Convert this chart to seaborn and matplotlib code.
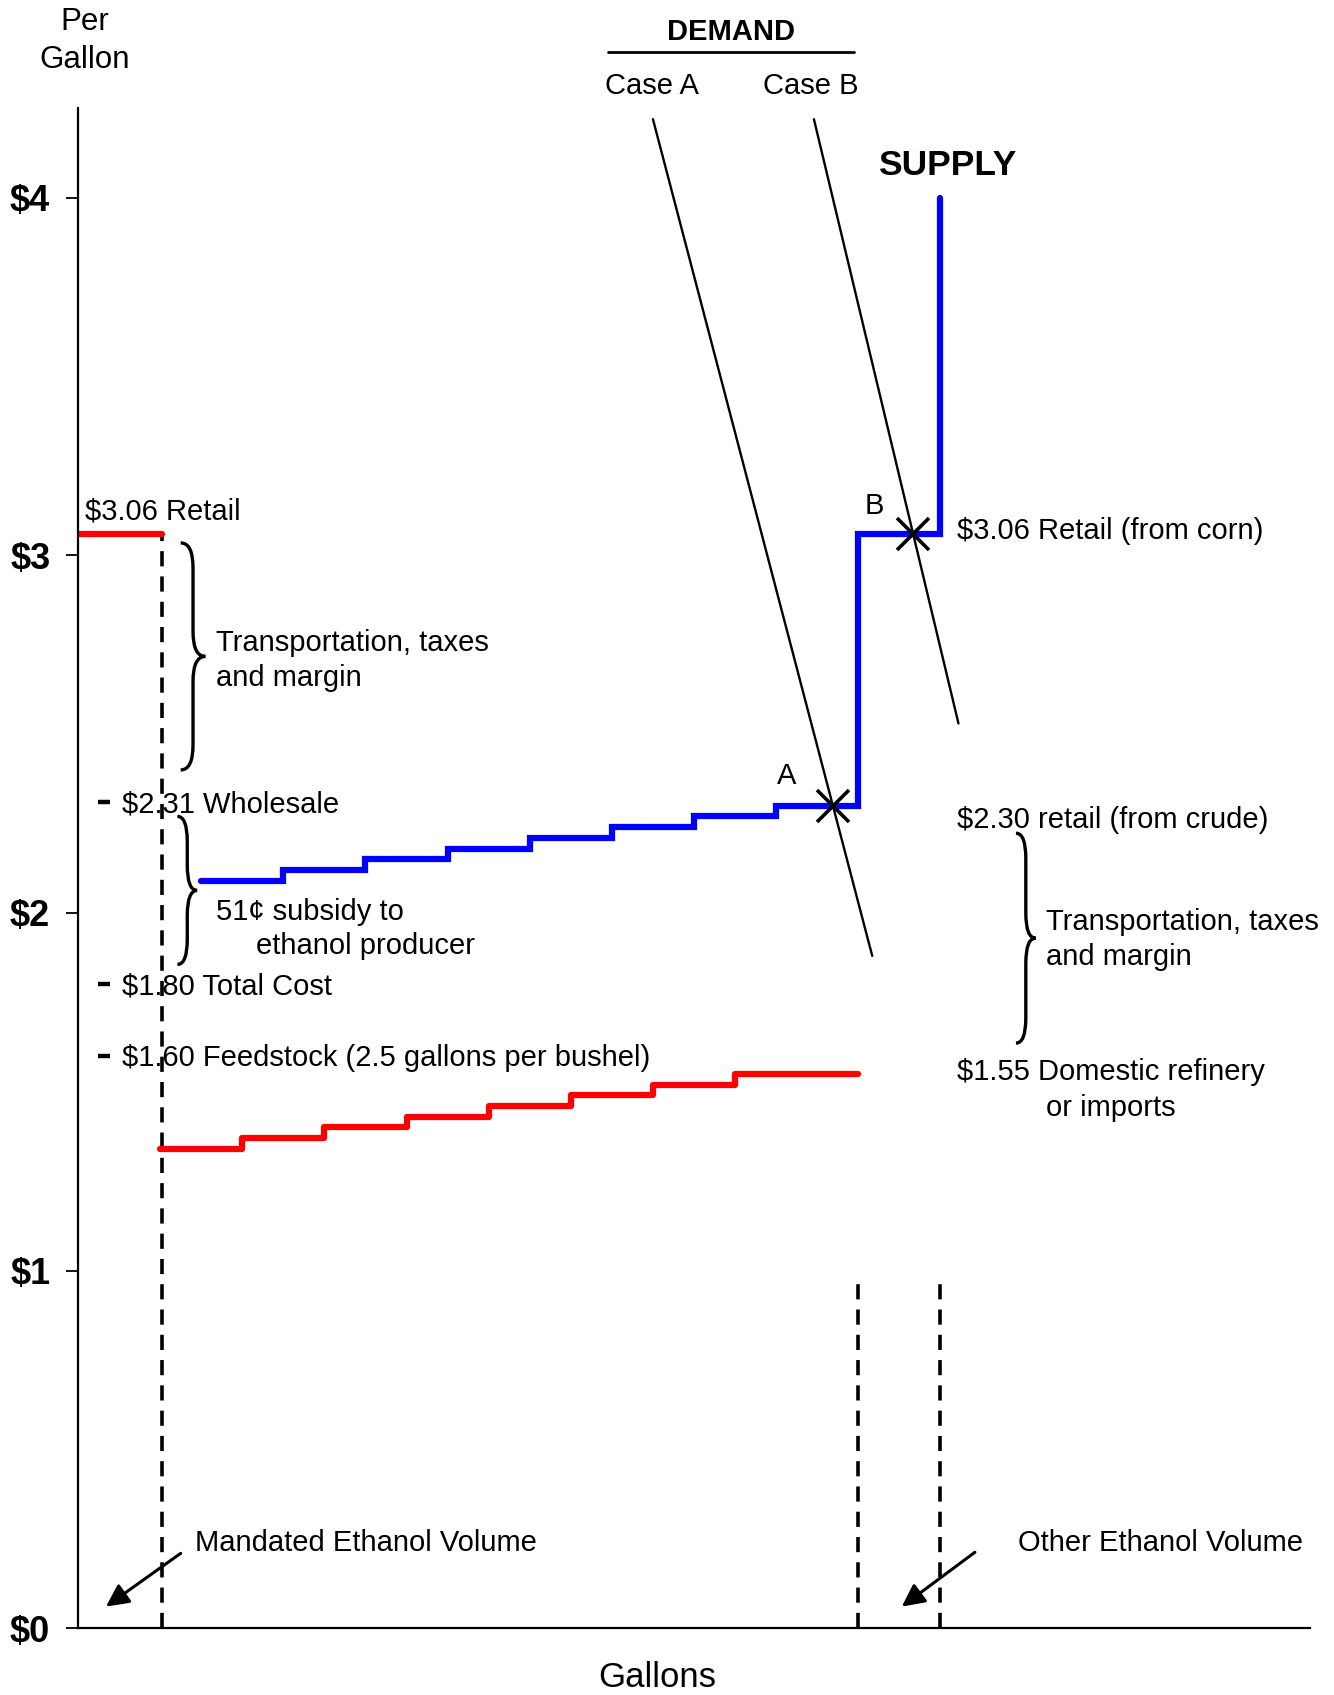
"""
Oferta y demanda de etanol: precio por galon contra volumen.
"""
import matplotlib
matplotlib.use("Agg")
import matplotlib.pyplot as plt
from matplotlib.path import Path
from matplotlib.patches import PathPatch
import seaborn as sns

# --- datos ---
precios_eje = [0, 1, 2, 3, 4]
etiquetas_eje = ["$0", "$1", "$2", "$3", "$4"]

# oferta (azul): escalones de ethanol + tramo de crudo + tope vertical
oferta_x = [15, 25, 35, 45, 55, 65, 75, 85, 95, 105]
oferta_y = [2.09, 2.12, 2.15, 2.18, 2.21, 2.24, 2.27, 2.30, 3.06, 4.00]

# costo de materia prima (rojo)
insumo_x = [10, 20, 30, 40, 50, 60, 70, 80, 95]
insumo_y = [1.34, 1.37, 1.40, 1.43, 1.46, 1.49, 1.52, 1.55, 1.55]

# precio minorista del volumen obligatorio
retail_x = [0, 10.2]
retail_y = [3.06, 3.06]

volumen_obligatorio = 10.2
volumen_otro = [95, 105]
altura_otro = 0.97

# curvas de demanda: (x0, x1), (y0, y1)
demanda_a = ([70.0, 96.7], [4.22, 1.88])
demanda_b = ([89.6, 107.2], [4.22, 2.53])
equilibrio = {"A": 2.30, "B": 3.06}

niveles_marca = [2.31, 1.80, 1.60]
textos_marca = ["$2.31 Wholesale", "$1.80 Total Cost",
                "$1.60 Feedstock (2.5 gallons per bushel)"]

sns.set_style("white")
plt.rcParams["font.family"] = ["Liberation Sans", "DejaVu Sans"]
plt.rcParams["text.color"] = "black"
plt.rcParams["ytick.color"] = "black"
plt.rcParams["axes.edgecolor"] = "black"

AZUL = "#0000FF"
ROJO = "#FF0000"
FS = 21
DY = -0.006  # pequeno ajuste vertical de los textos


def llave(ax, x, y0, y1, w=1.3, h=0.07):
    """Dibuja una llave '}' vertical entre y0 y y1."""
    ym = (y0 + y1) / 2
    verts = [(x - w, y1), (x, y1), (x, y1 - h),
             (x, ym + h), (x, ym), (x + w, ym),
             (x, ym), (x, ym - h),
             (x, y0 + h), (x, y0), (x - w, y0)]
    codes = [Path.MOVETO, Path.CURVE3, Path.CURVE3,
             Path.LINETO, Path.CURVE3, Path.CURVE3,
             Path.CURVE3, Path.CURVE3,
             Path.LINETO, Path.CURVE3, Path.CURVE3]
    ax.add_patch(PathPatch(Path(verts, codes), fill=False, lw=2.4,
                           ec="black", clip_on=False))


def cruce(linea, nivel):
    (x0, x1), (y0, y1) = linea
    return x0 + (y0 - nivel) / (y0 - y1) * (x1 - x0)


fig = plt.figure(figsize=(13.34, 16.95), dpi=100)
ax = fig.add_axes([0.0585, 0.0395, 0.9235, 0.8965])
ax.set_xlim(0, 150)
ax.set_ylim(0, 4.25)

# lineas punteadas de volumen
ax.plot([volumen_obligatorio] * 2, [0, retail_y[0]], color="black", lw=2.6,
        dashes=(4.2, 2.8))
for xv in volumen_otro:
    ax.plot([xv, xv], [0, altura_otro], color="black", lw=2.6,
            dashes=(4.2, 2.8))

# demanda
for linea in (demanda_a, demanda_b):
    sns.lineplot(x=linea[0], y=linea[1], color="black", lw=1.7, ax=ax,
                 estimator=None, sort=False)

# oferta e insumos en escalones
sns.lineplot(x=oferta_x, y=oferta_y, color=AZUL, lw=4.5, ax=ax,
             estimator=None, sort=False, drawstyle="steps-post",
             solid_capstyle="round", solid_joinstyle="miter")
sns.lineplot(x=insumo_x, y=insumo_y, color=ROJO, lw=4.5, ax=ax,
             estimator=None, sort=False, drawstyle="steps-post",
             solid_capstyle="round")
sns.lineplot(x=retail_x, y=retail_y, color=ROJO, lw=4.5, ax=ax,
             estimator=None, sort=False, solid_capstyle="round")

# puntos de equilibrio
for nombre, linea in (("A", demanda_a), ("B", demanda_b)):
    xe = cruce(linea, equilibrio[nombre])
    ax.plot(xe, equilibrio[nombre], marker="x", ms=23, mew=2.6, color="black")
ax.text(86.3, 2.39 + DY, "A", fontsize=FS, ha="center", va="center")
ax.text(97.0, 3.144 + DY, "B", fontsize=FS, ha="center", va="center")

# marcas de precio a la izquierda
ax.hlines(niveles_marca, 2.4, 3.9, color="black", lw=3.2)
for nivel, txt in zip(niveles_marca, textos_marca):
    ax.text(5.4, nivel + DY, txt, fontsize=FS, va="center")

# llaves y textos
llave(ax, 14.0, 2.40, 3.035, w=1.5)
ax.text(16.8, 2.712 + DY, "Transportation, taxes\nand margin", fontsize=FS,
        va="center", linespacing=1.35)
llave(ax, 13.3, 1.856, 2.27, w=1.2)
ax.text(16.8, 2.01 + DY, "51¢ subsidy to", fontsize=FS, va="center")
ax.text(21.7, 1.914 + DY, "ethanol producer", fontsize=FS, va="center")

ax.text(0.9, 3.13 + DY, "$3.06 Retail", fontsize=FS, va="center")
ax.text(107, 3.075 + DY, "$3.06 Retail (from corn)", fontsize=FS, va="center")
ax.text(107, 2.265 + DY, "$2.30 retail (from crude)", fontsize=FS,
        va="center")
llave(ax, 115.4, 1.636, 2.223, w=1.2)
ax.text(117.9, 1.932 + DY, "Transportation, taxes\nand margin", fontsize=FS,
        va="center", linespacing=1.35)
ax.text(107, 1.56 + DY, "$1.55 Domestic refinery", fontsize=FS, va="center")
ax.text(117.8, 1.46 + DY, "or imports", fontsize=FS, va="center")

# flechas de volumen
ax.text(14.3, 0.245 + DY, "Mandated Ethanol Volume", fontsize=FS,
        va="center")
ax.annotate("", xy=(3.4, 0.06), xytext=(12.5, 0.209),
            arrowprops=dict(arrowstyle="-|>", mutation_scale=34, lw=2.2,
                            color="black", shrinkA=0, shrinkB=0))
ax.text(114.5, 0.245 + DY, "Other Ethanol Volume", fontsize=FS, va="center")
ax.annotate("", xy=(100.3, 0.06), xytext=(109.2, 0.212),
            arrowprops=dict(arrowstyle="-|>", mutation_scale=34, lw=2.2,
                            color="black", shrinkA=0, shrinkB=0))

# encabezados
ax.text(0.8, 4.44, "Per\nGallon", fontsize=22.5, ha="center", va="center",
        linespacing=1.35, clip_on=False)
ax.text(79.5, 4.47 + DY, "DEMAND", fontsize=21, fontweight="bold",
        ha="center", va="center", clip_on=False)
ax.plot([64.5, 94.5], [4.408, 4.408], color="black", lw=2, clip_on=False)
ax.text(69.9, 4.32 + DY, "Case A", fontsize=FS, ha="center", va="center")
ax.text(89.2, 4.32 + DY, "Case B", fontsize=FS, ha="center", va="center")
ax.text(105.8, 4.097 + DY, "SUPPLY", fontsize=25.5, fontweight="bold",
        ha="center", va="center")
ax.text(70.5, -0.139, "Gallons", fontsize=25, ha="center", va="center",
        clip_on=False)

# ejes
sns.despine(ax=ax)
ax.spines["left"].set_linewidth(1.6)
ax.spines["bottom"].set_linewidth(1.6)
ax.set_xticks([])
ax.set_yticks(precios_eje)
ax.set_yticklabels(etiquetas_eje, fontsize=26, fontweight="bold")
ax.tick_params(axis="y", direction="out", length=9, width=1.3, pad=11,
               left=True, color="black", labelcolor="black")
ax.set_xlabel("")
ax.set_ylabel("")
ax.grid(False)

fig.savefig("out.png", dpi=100)
